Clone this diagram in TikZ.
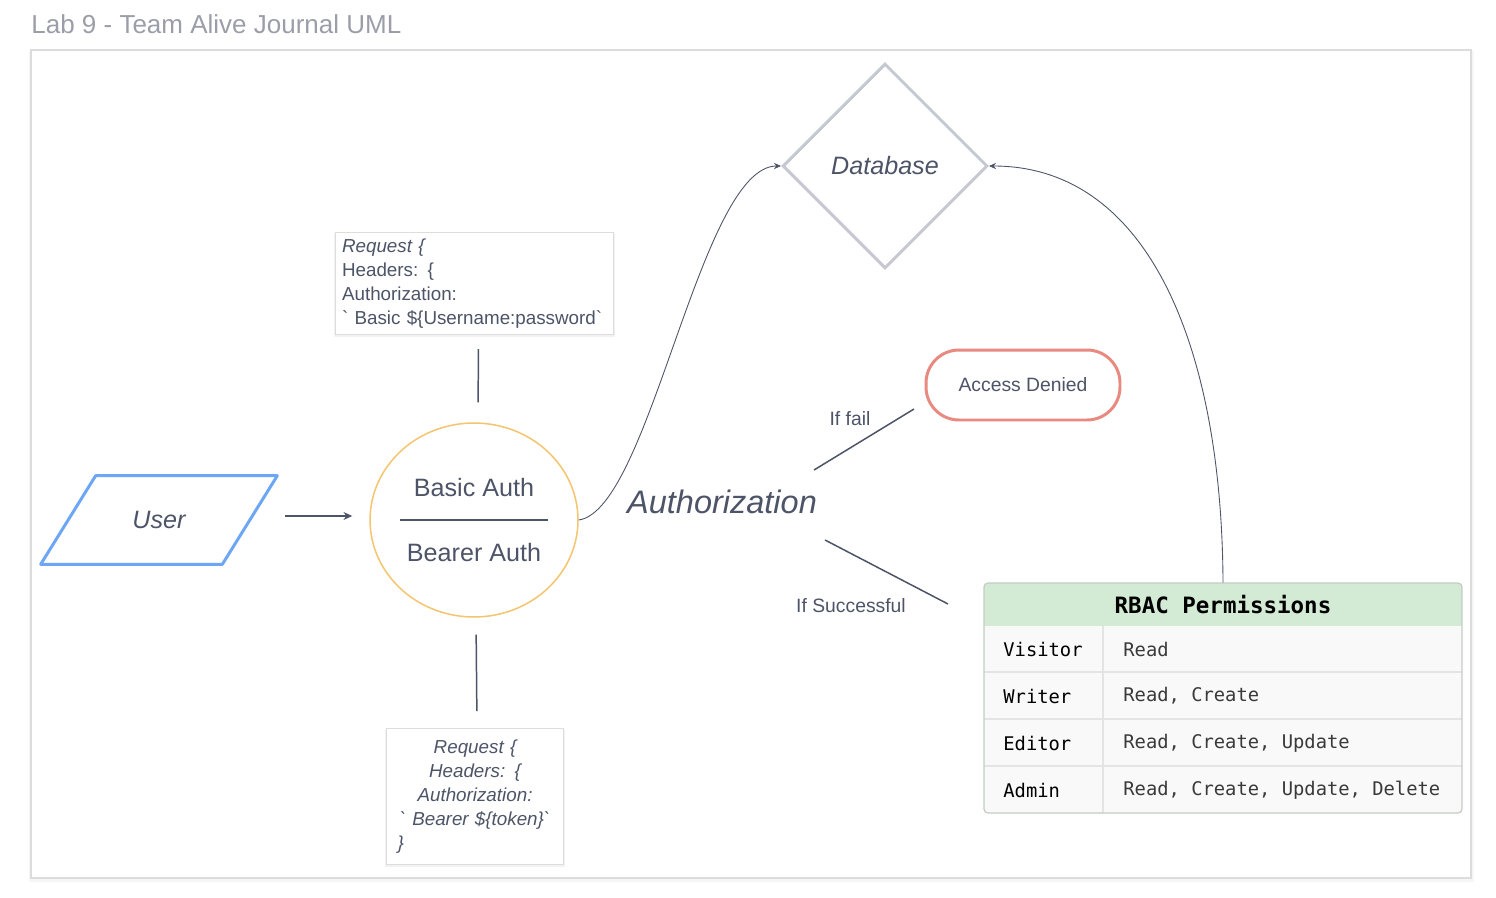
\documentclass[tikz,border=0pt]{standalone}
\usepackage{fontspec}
\setmainfont{Liberation Sans}
\setmonofont{DejaVu Sans Mono}
\usetikzlibrary{shapes.geometric,arrows.meta}

\definecolor{titlegray}{HTML}{9B9EA9}
\definecolor{ink}{HTML}{4D5468}
\definecolor{framegray}{HTML}{DCDCDC}
\definecolor{userblue}{HTML}{6EA6F6}
\definecolor{authorange}{HTML}{F4C46E}
\definecolor{dbgray}{HTML}{C5C7D1}
\definecolor{denyred}{HTML}{E88A80}
\definecolor{hdrgreen}{HTML}{D3EAD5}
\definecolor{tblborder}{HTML}{C3CDC4}
\definecolor{rowbg}{HTML}{F9F9F9}
\definecolor{rowsep}{HTML}{E4E4E4}
\definecolor{boxgray}{HTML}{DDDDDD}
\definecolor{celltext}{HTML}{3A3A3A}

\newcommand\fsTitle{\fontsize{14.8}{17}\selectfont}
\newcommand\fsBig{\fontsize{14.3}{17}\selectfont}
\newcommand\fsHuge{\fontsize{18.5}{22}\selectfont}
\newcommand\fsSmall{\fontsize{11}{13}\selectfont}
\newcommand\fsReq{\fontsize{10.7}{13.6}\selectfont}
\newcommand\fsCell{\fontsize{10.7}{13}\selectfont}
\newcommand\fsHead{\fontsize{12.8}{15}\selectfont}

\begin{document}
\begin{tikzpicture}[x=0.02cm,y=-0.02cm,
  lbl/.style={text=ink, inner sep=0},
  reqbox/.style={draw=boxgray, fill=white, line width=0.6pt, text=ink, inner ysep=0pt, font=\fsReq},
  plainline/.style={draw=ink, line width=0.85pt},
  arrowline/.style={draw=ink, line width=0.85pt, -{Stealth[length=5pt,width=4.5pt]}},
  curveline/.style={draw=ink, line width=0.5pt, -{Stealth[length=4pt,width=3.5pt]}},
  cell/.style={anchor=west, inner sep=0, font=\ttfamily\fsCell},
]
\useasboundingbox (0,0) rectangle (1496,898);

% title and canvas frame
\node[anchor=west, text=titlegray, inner sep=0] (title) at (31,24) {\fsTitle Lab 9 - Team Alive Journal UML};
\fill[black, opacity=0.035] (29,51) rectangle (1474,882);
\draw[framegray, fill=white, line width=0.8pt] (31,50) rectangle (1471,878);

% user input
\node[inner sep=0, minimum width=4.72cm, minimum height=1.76cm] (user) at (159,520) {\fsBig\itshape\color{ink}User};
\draw[userblue, line width=1.7pt, line join=round]
  ([xshift=1.1cm]user.north west) -- (user.north east)
  -- ([xshift=-1.1cm]user.south east) -- (user.south west) -- cycle;

% authentication methods
\node[ellipse, draw=authorange, line width=0.85pt, minimum width=4.16cm, minimum height=3.88cm, inner sep=0] (auth) at (474,520) {};
\node[lbl] (basic) at (474,488) {\fsBig Basic Auth};
\node[lbl] (bearer) at (474,553) {\fsBig Bearer Auth};
\draw[ink, line width=0.9pt] ([xshift=-1.48cm]auth.center) -- ([xshift=1.48cm]auth.center);

\draw[arrowline, shorten <=0.16cm, shorten >=0.34cm]
  ([yshift=0.08cm]user.east) -- ([yshift=0.08cm]auth.west);

% request headers
\fill[black, opacity=0.05] (334,233) rectangle (615,337);
\node[reqbox, anchor=north west, minimum width=5.56cm, minimum height=2.04cm, text width=5.3cm, inner xsep=0.13cm, align=left] (reqtop) at (335,232)
  {\textit{Request \{}\\Headers: \{\\Authorization:\\\textasciigrave{} Basic \$\{Username:password\textasciigrave};

\fill[black, opacity=0.05] (385,729) rectangle (565,867);
\node[reqbox, anchor=north west, minimum width=3.54cm, minimum height=2.72cm, text width=3.1cm, inner xsep=0.22cm, align=center] (reqbot) at (386,728)
  {\itshape Request \{\\Headers: \{\\Authorization:\\\textasciigrave{} Bearer \$\{token\}\textasciigrave\\\makebox[\linewidth][l]{\}}};

\draw[plainline, shorten <=0.28cm, shorten >=0.4cm] ([xshift=0.08cm]reqtop.south) -- ([xshift=0.08cm]auth.north);
\draw[plainline, shorten <=0.34cm, shorten >=0.34cm] ([xshift=0.04cm]auth.south) -- ([xshift=0.04cm]reqbot.north);

% database
\node[diamond, draw=dbgray, line width=1.7pt, aspect=1, minimum width=4.1cm, minimum height=4.1cm, inner sep=0] (db) at (885,166) {\fsBig\itshape\color{ink}Database};

% authorization step
\node[lbl] (authz) at (722,502) {\fsHuge\itshape Authorization};

\draw[curveline] (auth.east) .. controls (650,510) and (700,166) .. (db.west);

% access denied branch
\node[draw=denyred, line width=1.7pt, rounded corners=0.66cm, minimum width=3.88cm, minimum height=1.4cm, text=ink] (deny) at (1023,385) {\fsSmall Access Denied};
\coordinate (failA) at (814,470);
\coordinate (failB) at (914,409);
\draw[plainline] (failA) -- (failB);
\node[lbl] (failtxt) at (850,419) {\fsSmall If fail};

% success branch
\coordinate (okA) at (825,540);
\coordinate (okB) at (948,604);
\draw[plainline] (okA) -- (okB);
\node[lbl] (oktxt) at (851,606) {\fsSmall If Successful};

% RBAC permissions table
\node[inner sep=0, minimum width=9.56cm, minimum height=4.6cm] (rbac) at (1223,698) {};
\begin{scope}
  \clip[rounded corners=0.08cm] (984,583) rectangle (1462,813);
  \fill[rowbg] (984,583) rectangle (1462,813);
  \fill[hdrgreen] (984,583) rectangle (1462,626);
\end{scope}
\foreach \yy in {672,719,766} \draw[rowsep, line width=0.9pt] (984,\yy) -- (1462,\yy);
\draw[rowsep, line width=0.9pt] (1103,626) -- (1103,813);
\draw[tblborder, line width=0.7pt, rounded corners=0.08cm] (984,583) rectangle (1462,813);

\node[inner sep=0, font=\ttfamily\bfseries\fsHead] (hdr) at (1223,605) {RBAC Permissions};
\node[cell] (r1a) at (1003,649) {Visitor};
\node[cell, text=celltext] (r1b) at (1123,649) {Read};
\node[cell] (r2a) at (1003,696) {Writer};
\node[cell, text=celltext] (r2b) at (1123,696) {Read, Create};
\node[cell] (r3a) at (1003,743) {Editor};
\node[cell, text=celltext] (r3b) at (1123,743) {Read, Create, Update};
\node[cell] (r4a) at (1003,790) {Admin};
\node[cell, text=celltext] (r4b) at (1123,790) {Read, Create, Update, Delete};

\draw[curveline] (rbac.north) .. controls (1222,350) and (1150,166) .. (db.east);
\end{tikzpicture}
\end{document}
